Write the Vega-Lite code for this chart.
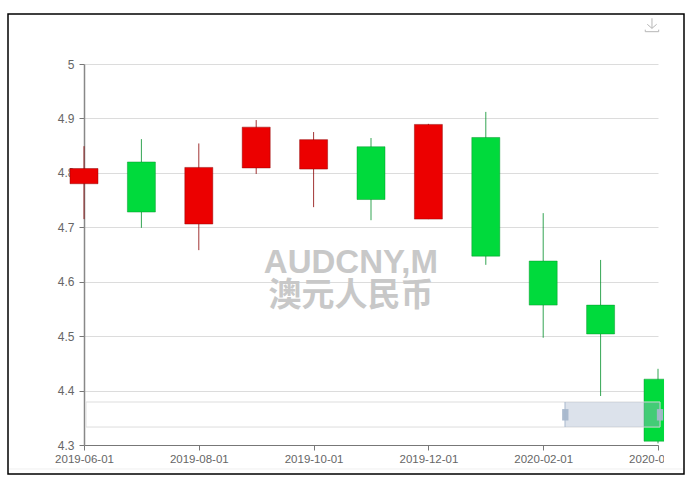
{
"$schema":"https://vega.github.io/schema/vega-lite/v6.json",
"width":574,"height":381,
"autosize":{"type":"none"},
"padding":{"left":84,"top":64,"right":38,"bottom":40},
"background":"white",
"view":{"stroke":null},
"config":{"font":"Liberation Sans"},
"datasets":{
"candles":[
{"i":0,"date":"2019-06-01","dir":"fall","open":4.808,"close":4.78,"high":4.849,"low":4.715},
{"i":1,"date":"2019-07-01","dir":"rise","open":4.728,"close":4.82,"high":4.862,"low":4.699},
{"i":2,"date":"2019-08-01","dir":"fall","open":4.81,"close":4.706,"high":4.854,"low":4.658},
{"i":3,"date":"2019-09-01","dir":"fall","open":4.884,"close":4.809,"high":4.897,"low":4.798},
{"i":4,"date":"2019-10-01","dir":"fall","open":4.861,"close":4.807,"high":4.875,"low":4.737},
{"i":5,"date":"2019-11-01","dir":"rise","open":4.751,"close":4.848,"high":4.864,"low":4.713},
{"i":6,"date":"2019-12-01","dir":"fall","open":4.889,"close":4.715,"high":4.89,"low":4.715},
{"i":7,"date":"2020-01-01","dir":"rise","open":4.647,"close":4.865,"high":4.912,"low":4.631},
{"i":8,"date":"2020-02-01","dir":"rise","open":4.557,"close":4.638,"high":4.726,"low":4.497},
{"i":9,"date":"2020-03-01","dir":"rise","open":4.504,"close":4.557,"high":4.64,"low":4.39},
{"i":10,"date":"2020-04-01","dir":"rise","open":4.307,"close":4.421,"high":4.44,"low":4.303}
]},
"layer":[
{"data":{"name":"candles"},"mark":{"type":"rule","strokeWidth":1,"opacity":0.8},
 "encoding":{
 "x":{"field":"i","type":"quantitative","title":null,"scale":{"domain":[0,10],"nice":false,"zero":false,"padding":0},
  "axis":{"values":[0,2,4,6,8,10],"grid":false,"labelExpr":"['2019-06-01','','2019-08-01','','2019-10-01','','2019-12-01','','2020-02-01','','2020-04-01'][datum.value]","labelFontSize":11.5,"labelColor":"#666","tickColor":"#777","tickSize":5,"domainColor":"#777","domainWidth":1.2,"labelPadding":3,"labelOverlap":false,"labelFlush":false}},
 "y":{"field":"high","type":"quantitative","title":null,"scale":{"domain":[4.3,5],"nice":false,"zero":false},
  "axis":{"values":[4.3,4.4,4.5,4.6,4.7,4.8,4.9,5],"format":".1~f","grid":true,"gridColor":"#dcdcdc","labelFontSize":12,"labelColor":"#666","tickColor":"#777","tickSize":5,"domainColor":"#888","domainWidth":1.5,"labelPadding":5}},
 "y2":{"field":"low"},
 "stroke":{"field":"dir","type":"nominal","legend":null,"scale":{"domain":["rise","fall"],"range":["#008f28","#8a0000"]}}}},
{"data":{"name":"candles"},"mark":{"type":"bar","size":28,"strokeWidth":1,"strokeOpacity":0.45},
 "encoding":{
 "x":{"field":"i","type":"quantitative"},
 "y":{"field":"open","type":"quantitative"},
 "y2":{"field":"close"},
 "color":{"field":"dir","type":"nominal","legend":null,"scale":{"domain":["rise","fall"],"range":["#00da3c","#ec0000"]}},
 "stroke":{"field":"dir","type":"nominal","legend":null}}},
{"data":{"values":[{"i0":0.035,"i1":10.035,"v0":4.379,"v1":4.333}]},"mark":{"type":"rect","fill":"transparent","stroke":"#dddddd","strokeWidth":1},
 "encoding":{"x":{"field":"i0","type":"quantitative"},"x2":{"field":"i1"},"y":{"field":"v0","type":"quantitative"},"y2":{"field":"v1"}}},
{"data":{"values":[{"i0":8.38,"i1":10.035,"v0":4.379,"v1":4.333}]},"mark":{"type":"rect","fill":"#a7b7cc","fillOpacity":0.4},
 "encoding":{"x":{"field":"i0","type":"quantitative"},"x2":{"field":"i1"},"y":{"field":"v0","type":"quantitative"},"y2":{"field":"v1"}}},
{"data":{"values":[{"i0":8.38,"v0":4.379,"v1":4.333}]},"mark":{"type":"rule","stroke":"#a7b7cc","strokeWidth":1},
 "encoding":{"x":{"field":"i0","type":"quantitative"},"y":{"field":"v0","type":"quantitative"},"y2":{"field":"v1"}}},
{"data":{"values":[{"i0":8.33,"i1":8.44,"v0":4.366,"v1":4.345},{"i0":9.98,"i1":10.09,"v0":4.366,"v1":4.345}]},"mark":{"type":"rect","fill":"#a7b7cc","opacity":0.95},
 "encoding":{"x":{"field":"i0","type":"quantitative"},"x2":{"field":"i1"},"y":{"field":"v0","type":"quantitative"},"y2":{"field":"v1"}}},
{"data":{"values":[{"i":4.65,"v":4.634,"t":"AUDCNY,M"},{"i":4.65,"v":4.574,"t":"澳元人民币"}]},"mark":{"type":"text","font":"Liberation Sans, Noto Sans CJK SC","fontWeight":"bold","fontSize":33,"fill":"#c8c8c8","align":"center","baseline":"middle"},
 "encoding":{"x":{"field":"i","type":"quantitative"},"y":{"field":"v","type":"quantitative"},"text":{"field":"t"}}},
{"data":{"values":[{"i0":10.105,"i1":10.66,"v0":5.09,"v1":4.248}]},"mark":{"type":"rect","fill":"white"},
 "encoding":{"x":{"field":"i0","type":"quantitative"},"x2":{"field":"i1"},"y":{"field":"v0","type":"quantitative"},"y2":{"field":"v1"}}},
{"data":{"values":[{"i0":-1.31,"i1":10.45,"v":4.256}]},"mark":{"type":"rule","stroke":"#f0f0f0","strokeWidth":1},
 "encoding":{"x":{"field":"i0","type":"quantitative"},"x2":{"field":"i1"},"y":{"field":"v","type":"quantitative"}}},
{"data":{"values":[{"i0":-1.324,"i1":10.453,"v0":5.0919,"v1":4.2467}]},"mark":{"type":"rect","fill":"transparent","stroke":"#000000","strokeWidth":1.5},
 "encoding":{"x":{"field":"i0","type":"quantitative"},"x2":{"field":"i1"},"y":{"field":"v0","type":"quantitative"},"y2":{"field":"v1"}}},
{"data":{"values":[{"i":9.895,"v":5.0717}]},"mark":{"type":"point","filled":false,"size":180,"stroke":"#999999","strokeWidth":1,"shape":"M0,-1 L0,0.5 M-0.7,-0.1 L0,0.5 L0.7,-0.1 M-1,0.7 L-1,1 L1,1 L1,0.7"},
 "encoding":{"x":{"field":"i","type":"quantitative"},"y":{"field":"v","type":"quantitative"}}}
]
}
